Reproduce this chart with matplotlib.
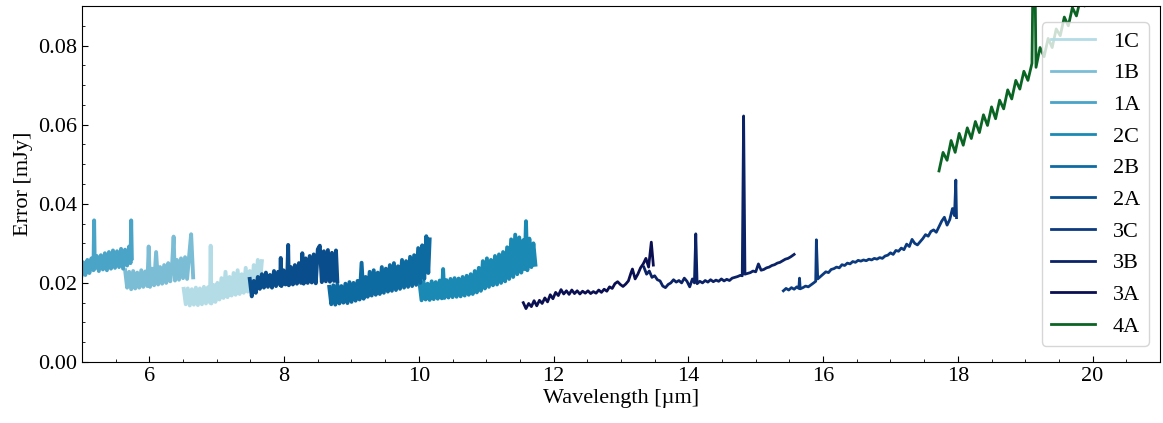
import matplotlib

matplotlib.use("Agg")
import matplotlib.pyplot as plt
from matplotlib.ticker import MultipleLocator, FormatStrFormatter


# wavelength [um] and error [mJy] per MRS sub-band
WL_1A = [4.90, 4.93, 4.96, 4.99, 5.02, 5.05, 5.08, 5.11, 5.14, 5.17, 5.18, 5.19, 5.22, 5.25, 5.28, 5.31,
         5.34, 5.37, 5.40, 5.43, 5.46, 5.49, 5.52, 5.55, 5.58, 5.61, 5.64, 5.67, 5.70, 5.72, 5.73, 5.74]
ERR_1A = [0.0245, 0.0212, 0.0250, 0.0215, 0.0252, 0.0220, 0.0258, 0.0225, 0.0262, 0.0232, 0.0358, 0.0236,
          0.0268, 0.0230, 0.0270, 0.0234, 0.0275, 0.0232, 0.0278, 0.0236, 0.0282, 0.0238, 0.0280, 0.0240,
          0.0286, 0.0236, 0.0284, 0.0244, 0.0292, 0.0250, 0.0358, 0.0262]

WL_1B = [5.64, 5.67, 5.70, 5.73, 5.76, 5.79, 5.82, 5.85, 5.88, 5.91, 5.94, 5.97, 5.99, 6.01, 6.04, 6.07,
         6.10, 6.13, 6.16, 6.19, 6.22, 6.25, 6.28, 6.31, 6.34, 6.36, 6.38, 6.41, 6.44, 6.47, 6.50, 6.53,
         6.56, 6.59, 6.62, 6.65]
ERR_1B = [0.0232, 0.0188, 0.0228, 0.0184, 0.0230, 0.0186, 0.0226, 0.0188, 0.0232, 0.0190, 0.0229, 0.0192,
          0.0292, 0.0190, 0.0236, 0.0194, 0.0278, 0.0196, 0.0240, 0.0198, 0.0245, 0.0200, 0.0250, 0.0204,
          0.0254, 0.0317, 0.0206, 0.0258, 0.0208, 0.0262, 0.0212, 0.0265, 0.0210, 0.0268, 0.0323, 0.0214]

WL_1C = [6.51, 6.54, 6.57, 6.60, 6.63, 6.66, 6.69, 6.72, 6.75, 6.78, 6.81, 6.84, 6.87, 6.90, 6.91, 6.92,
         6.95, 6.98, 7.01, 7.04, 7.07, 7.10, 7.13, 7.16, 7.19, 7.22, 7.25, 7.28, 7.31, 7.34, 7.37, 7.40,
         7.43, 7.46, 7.49, 7.52, 7.55, 7.58, 7.61, 7.64, 7.67]
ERR_1C = [0.0185, 0.0146, 0.0186, 0.0143, 0.0184, 0.0145, 0.0188, 0.0144, 0.0186, 0.0146, 0.0190, 0.0148,
          0.0189, 0.0150, 0.0294, 0.0148, 0.0195, 0.0152, 0.0200, 0.0158, 0.0212, 0.0162, 0.0228, 0.0164,
          0.0215, 0.0168, 0.0225, 0.0170, 0.0232, 0.0172, 0.0222, 0.0175, 0.0238, 0.0178, 0.0230, 0.0185,
          0.0245, 0.0190, 0.0258, 0.0198, 0.0255]

WL_2A = [7.49, 7.52, 7.55, 7.58, 7.61, 7.64, 7.67, 7.70, 7.73, 7.76, 7.79, 7.82, 7.85, 7.88, 7.91, 7.94,
         7.95, 7.96, 7.99, 8.02, 8.05, 8.06, 8.07, 8.10, 8.13, 8.16, 8.19, 8.22, 8.25, 8.27, 8.29, 8.32,
         8.35, 8.38, 8.41, 8.44, 8.47, 8.50, 8.53, 8.56, 8.59, 8.62, 8.65, 8.68, 8.71, 8.74, 8.77, 8.79]
ERR_2A = [0.0210, 0.0166, 0.0205, 0.0175, 0.0215, 0.0185, 0.0222, 0.0188, 0.0226, 0.0190, 0.0220, 0.0188,
          0.0230, 0.0192, 0.0228, 0.0195, 0.0263, 0.0192, 0.0232, 0.0196, 0.0236, 0.0296, 0.0194, 0.0240,
          0.0196, 0.0245, 0.0198, 0.0250, 0.0200, 0.0275, 0.0198, 0.0262, 0.0200, 0.0268, 0.0201, 0.0272,
          0.0199, 0.0285, 0.0294, 0.0202, 0.0280, 0.0204, 0.0283, 0.0203, 0.0276, 0.0205, 0.0282, 0.0204]

WL_2B = [8.67, 8.70, 8.73, 8.76, 8.79, 8.82, 8.85, 8.88, 8.91, 8.94, 8.97, 9.00, 9.03, 9.06, 9.09, 9.12,
         9.15, 9.18, 9.21, 9.24, 9.27, 9.30, 9.33, 9.36, 9.39, 9.42, 9.45, 9.48, 9.51, 9.54, 9.57, 9.60,
         9.63, 9.66, 9.69, 9.72, 9.75, 9.78, 9.81, 9.84, 9.87, 9.90, 9.93, 9.96, 9.99, 10.02, 10.05, 10.08,
         10.11, 10.14, 10.16]
ERR_2B = [0.0190, 0.0146, 0.0194, 0.0145, 0.0196, 0.0148, 0.0192, 0.0150, 0.0198, 0.0149, 0.0202, 0.0152,
          0.0200, 0.0155, 0.0205, 0.0158, 0.0251, 0.0160, 0.0215, 0.0165, 0.0228, 0.0168, 0.0232, 0.0170,
          0.0226, 0.0172, 0.0240, 0.0175, 0.0236, 0.0178, 0.0245, 0.0180, 0.0250, 0.0182, 0.0242, 0.0185,
          0.0258, 0.0188, 0.0255, 0.0190, 0.0266, 0.0192, 0.0270, 0.0195, 0.0288, 0.0200, 0.0295, 0.0210,
          0.0318, 0.0225, 0.0310]

WL_2C = [10.01, 10.04, 10.07, 10.10, 10.13, 10.16, 10.19, 10.22, 10.25, 10.28, 10.31, 10.34, 10.36, 10.38,
         10.41, 10.44, 10.47, 10.50, 10.53, 10.56, 10.59, 10.62, 10.65, 10.68, 10.71, 10.74, 10.77, 10.80,
         10.83, 10.86, 10.89, 10.92, 10.95, 10.98, 11.01, 11.04, 11.07, 11.10, 11.13, 11.16, 11.19, 11.22,
         11.25, 11.28, 11.31, 11.34, 11.37, 11.40, 11.43, 11.46, 11.49, 11.52, 11.55, 11.57, 11.59, 11.61,
         11.64, 11.67, 11.70, 11.73]
ERR_2C = [0.0200, 0.0156, 0.0203, 0.0158, 0.0198, 0.0157, 0.0204, 0.0159, 0.0202, 0.0160, 0.0206, 0.0161,
          0.0235, 0.0162, 0.0207, 0.0163, 0.0210, 0.0164, 0.0212, 0.0165, 0.0211, 0.0166, 0.0215, 0.0168,
          0.0218, 0.0170, 0.0222, 0.0172, 0.0230, 0.0176, 0.0238, 0.0180, 0.0255, 0.0186, 0.0262, 0.0190,
          0.0258, 0.0194, 0.0268, 0.0196, 0.0272, 0.0200, 0.0278, 0.0204, 0.0290, 0.0210, 0.0310, 0.0215,
          0.0322, 0.0222, 0.0315, 0.0226, 0.0308, 0.0235, 0.0356, 0.0232, 0.0312, 0.0240, 0.0300, 0.0246]

WL_3A = [11.55, 11.59, 11.63, 11.67, 11.71, 11.75, 11.79, 11.83, 11.87, 11.91, 11.95, 11.99, 12.03, 12.07,
         12.11, 12.15, 12.19, 12.23, 12.27, 12.31, 12.35, 12.39, 12.43, 12.47, 12.51, 12.55, 12.59, 12.63,
         12.67, 12.71, 12.75, 12.79, 12.83, 12.87, 12.91, 12.95, 12.99, 13.03, 13.07, 13.11, 13.15, 13.17,
         13.21, 13.25, 13.29, 13.33, 13.37, 13.41, 13.45, 13.48]
ERR_3A = [0.0150, 0.0135, 0.0148, 0.0140, 0.0155, 0.0142, 0.0156, 0.0148, 0.0162, 0.0152, 0.0170, 0.0160,
          0.0176, 0.0168, 0.0183, 0.0172, 0.0180, 0.0171, 0.0182, 0.0173, 0.0180, 0.0172, 0.0179, 0.0174,
          0.0180, 0.0173, 0.0178, 0.0174, 0.0182, 0.0176, 0.0184, 0.0179, 0.0190, 0.0186, 0.0198, 0.0203,
          0.0196, 0.0191, 0.0197, 0.0205, 0.0226, 0.0235, 0.0210, 0.0222, 0.0238, 0.0248, 0.0262, 0.0240,
          0.0303, 0.0245]

WL_3B = [13.34, 13.38, 13.42, 13.46, 13.50, 13.54, 13.58, 13.62, 13.66, 13.70, 13.74, 13.78, 13.82, 13.86,
         13.90, 13.94, 13.98, 14.02, 14.06, 14.09, 14.11, 14.13, 14.17, 14.21, 14.25, 14.29, 14.33, 14.37,
         14.41, 14.45, 14.49, 14.53, 14.57, 14.61, 14.65, 14.69, 14.73, 14.77, 14.80, 14.82, 14.84, 14.88,
         14.92, 14.96, 15.00, 15.04, 15.08, 15.12, 15.16, 15.20, 15.24, 15.28, 15.32, 15.36, 15.40, 15.44,
         15.48, 15.52, 15.57]
ERR_3B = [0.0240, 0.0222, 0.0230, 0.0214, 0.0218, 0.0208, 0.0205, 0.0192, 0.0188, 0.0196, 0.0200, 0.0208,
          0.0202, 0.0206, 0.0200, 0.0212, 0.0204, 0.0190, 0.0210, 0.0200, 0.0324, 0.0198, 0.0204, 0.0200,
          0.0206, 0.0202, 0.0208, 0.0203, 0.0207, 0.0204, 0.0210, 0.0205, 0.0209, 0.0206, 0.0212, 0.0214,
          0.0216, 0.0219, 0.0218, 0.0622, 0.0222, 0.0224, 0.0226, 0.0230, 0.0228, 0.0248, 0.0232, 0.0234,
          0.0238, 0.0240, 0.0244, 0.0246, 0.0250, 0.0252, 0.0256, 0.0260, 0.0262, 0.0266, 0.0272]

WL_3C = [15.41, 15.45, 15.49, 15.53, 15.57, 15.61, 15.64, 15.65, 15.66, 15.70, 15.74, 15.78, 15.82, 15.86,
         15.89, 15.90, 15.92, 15.96, 16.00, 16.04, 16.08, 16.12, 16.16, 16.20, 16.24, 16.28, 16.32, 16.36,
         16.40, 16.44, 16.48, 16.52, 16.56, 16.60, 16.64, 16.68, 16.72, 16.76, 16.80, 16.84, 16.88, 16.92,
         16.96, 17.00, 17.04, 17.08, 17.12, 17.16, 17.20, 17.24, 17.28, 17.32, 17.36, 17.40, 17.44, 17.48,
         17.52, 17.56, 17.60, 17.64, 17.68, 17.72, 17.76, 17.80, 17.84, 17.88, 17.92, 17.95, 17.97, 17.98]
ERR_3C = [0.0180, 0.0186, 0.0182, 0.0188, 0.0184, 0.0190, 0.0186, 0.0212, 0.0185, 0.0188, 0.0192, 0.0190,
          0.0195, 0.0200, 0.0204, 0.0309, 0.0210, 0.0216, 0.0222, 0.0228, 0.0226, 0.0234, 0.0236, 0.0240,
          0.0238, 0.0246, 0.0244, 0.0250, 0.0248, 0.0254, 0.0252, 0.0257, 0.0255, 0.0258, 0.0256, 0.0260,
          0.0258, 0.0262, 0.0260, 0.0264, 0.0262, 0.0268, 0.0270, 0.0276, 0.0272, 0.0282, 0.0280, 0.0288,
          0.0284, 0.0298, 0.0292, 0.0310, 0.0300, 0.0296, 0.0304, 0.0312, 0.0322, 0.0318, 0.0330, 0.0334,
          0.0328, 0.0342, 0.0356, 0.0366, 0.0346, 0.0360, 0.0388, 0.0370, 0.0460, 0.0365]

WL_4A = [17.72, 17.78, 17.84, 17.90, 17.96, 18.02, 18.08, 18.14, 18.20, 18.26, 18.32, 18.38, 18.44, 18.50,
         18.56, 18.62, 18.68, 18.74, 18.80, 18.86, 18.92, 18.98, 19.04, 19.10, 19.13, 19.16, 19.22, 19.28,
         19.34, 19.40, 19.46, 19.52, 19.58, 19.64, 19.70, 19.76, 19.82, 19.88, 19.94, 20.00, 20.06, 20.12,
         20.18, 20.24, 20.30]
ERR_4A = [0.0483, 0.0530, 0.0510, 0.0560, 0.0530, 0.0578, 0.0548, 0.0592, 0.0565, 0.0608, 0.0580, 0.0625,
          0.0598, 0.0645, 0.0615, 0.0662, 0.0640, 0.0688, 0.0665, 0.0712, 0.0690, 0.0735, 0.0712, 0.0755,
          0.1200, 0.0745, 0.0795, 0.0772, 0.0818, 0.0795, 0.0842, 0.0825, 0.0872, 0.0850, 0.0896, 0.0875,
          0.0918, 0.0900, 0.0940, 0.0925, 0.0965, 0.0950, 0.0990, 0.0975, 0.1010]

BANDS = ["1C", "1B", "1A", "2C", "2B", "2A", "3C", "3B", "3A", "4A"]
COLORS = ["#b3dce6", "#7cbdd6", "#49a4c8", "#1a8ab5", "#0e6ba2",
          "#0a4d8c", "#0b3a7e", "#0b2266", "#0a0f52", "#0a6424"]


def main() -> None:
    plt.rcParams.update(
        {
            "font.family": "serif",
            "font.serif": ["Liberation Serif", "DejaVu Serif"],
            "font.size": 16,
            "figure.facecolor": "white",
            "axes.facecolor": "white",
        }
    )

    data = {
        "1A": (WL_1A, ERR_1A), "1B": (WL_1B, ERR_1B), "1C": (WL_1C, ERR_1C),
        "2A": (WL_2A, ERR_2A), "2B": (WL_2B, ERR_2B), "2C": (WL_2C, ERR_2C),
        "3A": (WL_3A, ERR_3A), "3B": (WL_3B, ERR_3B), "3C": (WL_3C, ERR_3C),
        "4A": (WL_4A, ERR_4A),
    }

    fig = plt.figure(figsize=(11.63, 4.23), dpi=100)
    ax = fig.add_axes([0.0705, 0.1442, 0.9269, 0.8416])

    for band, color in zip(BANDS, COLORS):
        wl, err = data[band]
        # channels 1-2 are noisy enough to read as a solid band
        lw = 2.8 if band[0] in "12" else 2.0
        ax.plot(wl, err, color=color, lw=lw, label=band)

    ax.set_xlim(5, 21)
    ax.set_ylim(0, 0.09)
    ax.xaxis.set_major_locator(MultipleLocator(2))
    ax.xaxis.set_minor_locator(MultipleLocator(0.5))
    ax.yaxis.set_major_locator(MultipleLocator(0.02))
    ax.yaxis.set_minor_locator(MultipleLocator(0.005))
    ax.yaxis.set_major_formatter(FormatStrFormatter("%.2f"))
    ax.tick_params(which="both", direction="in")
    ax.tick_params(which="major", length=4)
    ax.tick_params(which="minor", length=2.5)

    ax.set_xlabel("Wavelength [µm]", labelpad=2)
    ax.set_ylabel("Error [mJy]")
    leg = ax.legend(loc="center right", fontsize=16)
    for line in leg.get_lines():
        line.set_linewidth(2.0)

    fig.savefig("out.png", dpi=100)
    plt.close(fig)


if __name__ == "__main__":
    main()
